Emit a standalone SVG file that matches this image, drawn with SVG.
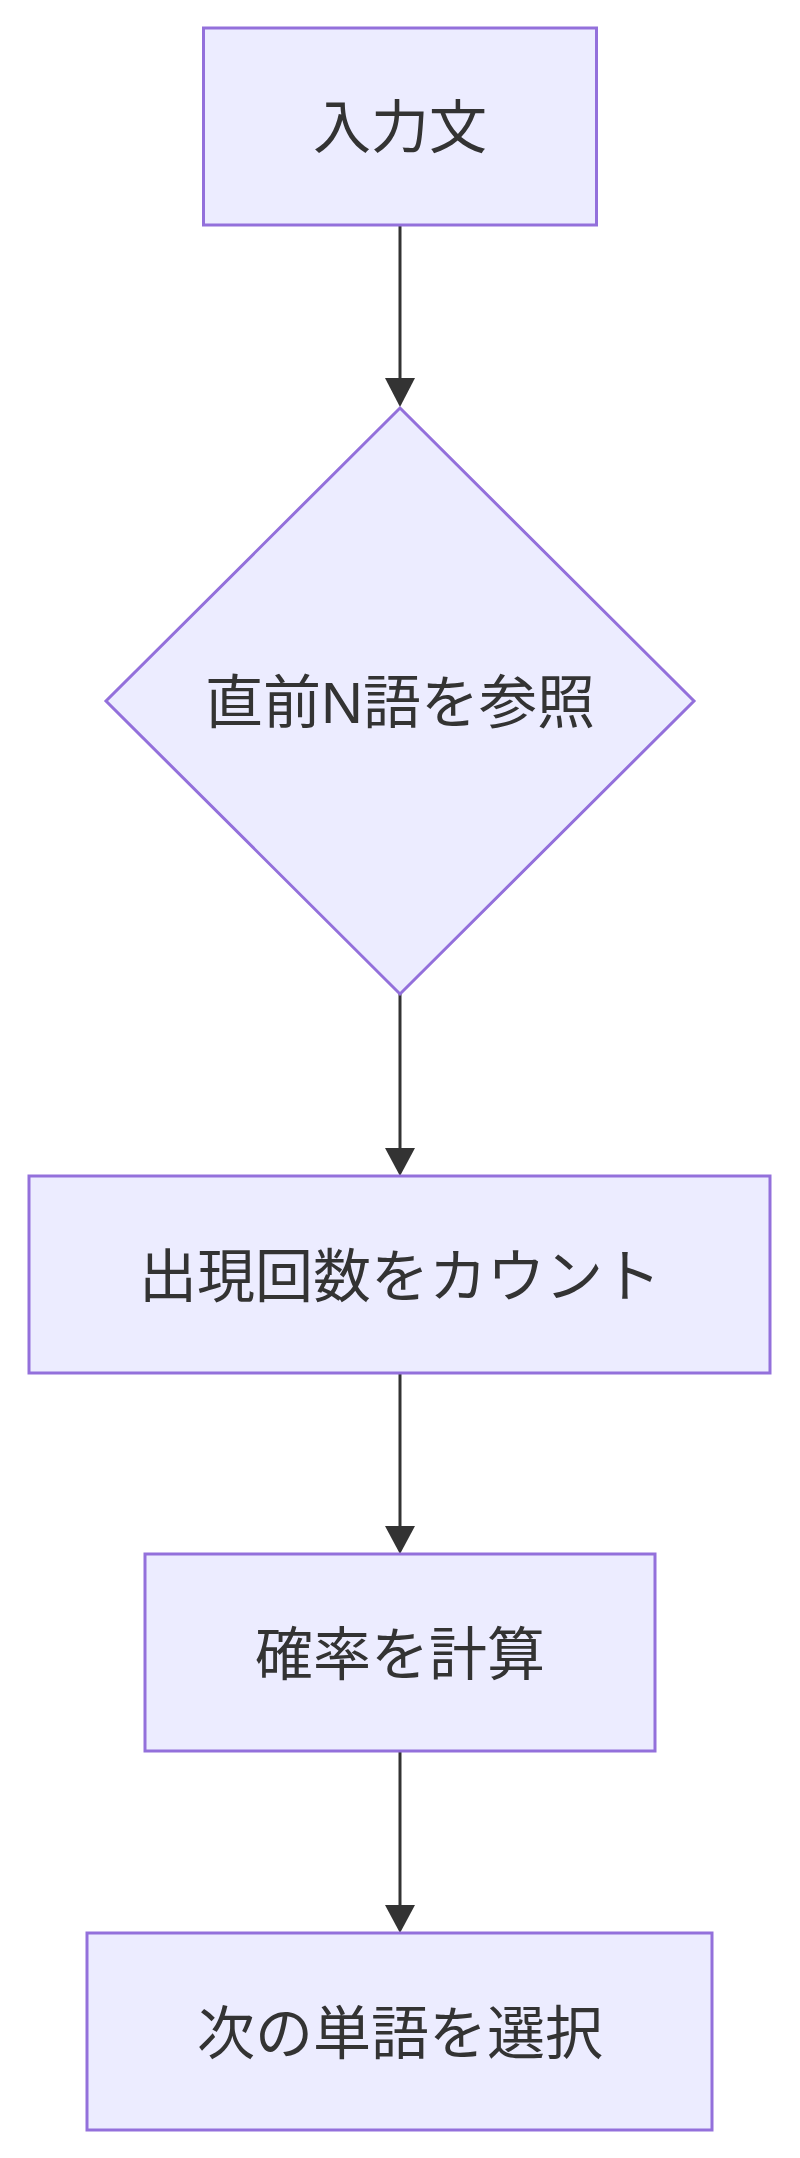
<svg xmlns="http://www.w3.org/2000/svg" width="800" height="2158" viewBox="0 0 800 2158">
<style>
.node{fill:#ECECFF;stroke:#9370DB;stroke-width:3}
.lbl{font-family:"Liberation Sans","Noto Sans CJK JP",sans-serif;font-size:58px;fill:#333333;text-anchor:middle;dominant-baseline:central}
.edge{stroke:#333333;stroke-width:3;fill:none}
.head{fill:#333333}
</style>
<rect width="800" height="2158" fill="#ffffff"/>
<g id="edges">
<line class="edge" x1="400" y1="225" x2="400" y2="380"/>
<path class="head" d="M385,378 L415,378 L400,407 Z"/>
<line class="edge" x1="400" y1="994" x2="400" y2="1150"/>
<path class="head" d="M385,1148 L415,1148 L400,1176 Z"/>
<line class="edge" x1="400" y1="1373" x2="400" y2="1528"/>
<path class="head" d="M385,1526 L415,1526 L400,1554 Z"/>
<line class="edge" x1="400" y1="1751" x2="400" y2="1907"/>
<path class="head" d="M385,1905 L415,1905 L400,1933 Z"/>
</g>
<g id="n1">
<rect class="node" x="203.5" y="28" width="393" height="197"/>
<text class="lbl" x="400" y="127">入力文</text>
</g>
<g id="n2">
<polygon class="node" points="400,408 694,701 400,994 106,701"/>
<text class="lbl" x="400" y="702">直前N語を参照</text>
</g>
<g id="n3">
<rect class="node" x="29" y="1176" width="741" height="197"/>
<text class="lbl" x="400" y="1276">出現回数をカウント</text>
</g>
<g id="n4">
<rect class="node" x="145" y="1554" width="510" height="197"/>
<text class="lbl" x="400" y="1654">確率を計算</text>
</g>
<g id="n5">
<rect class="node" x="87" y="1933" width="625" height="197"/>
<text class="lbl" x="400" y="2033">次の単語を選択</text>
</g>
</svg>
